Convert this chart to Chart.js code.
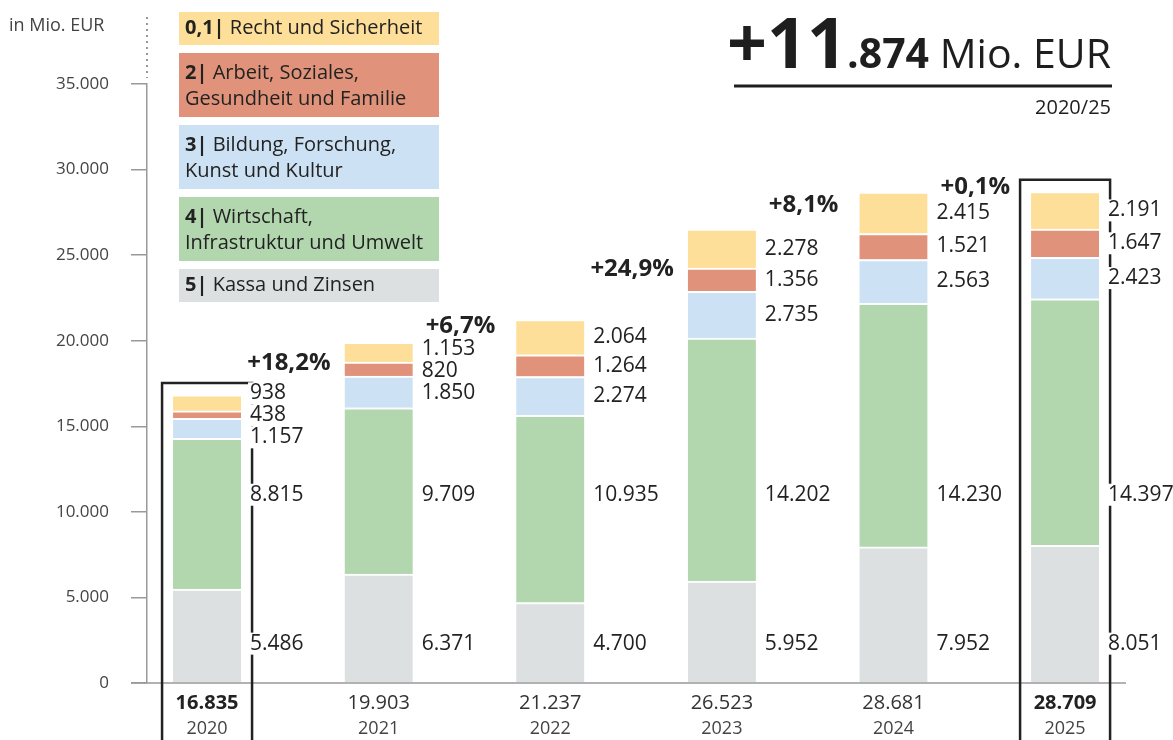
<!DOCTYPE html>
<html>
<head>
<meta charset="utf-8">
<script src="https://cdn.jsdelivr.net/npm/chart.js@4/dist/chart.umd.min.js"></script>
<style>
  html, body { margin: 0; padding: 0; background: #fff; }
  #wrap { position: relative; width: 1173px; height: 740px; }
</style>
</head>
<body>
<div id="wrap"><canvas id="canvasBudget" width="1173" height="740"></canvas></div>
<script>
"use strict";

var years = ['2020', '2021', '2022', '2023', '2024', '2025'];
var totals = [16835, 19903, 21237, 26523, 28681, 28709];
var growth = ['+18,2%', '+6,7%', '+24,9%', '+8,1%', '+0,1%'];

// bottom to top
var kassa = [5486, 6371, 4700, 5952, 7952, 8051];
var wirtschaft = [8815, 9709, 10935, 14202, 14230, 14397];
var bildung = [1157, 1850, 2274, 2735, 2563, 2423];
var arbeit = [438, 820, 1264, 1356, 1521, 1647];
var recht = [938, 1153, 2064, 2278, 2415, 2191];

var yTicks = [0, 5000, 10000, 15000, 20000, 25000, 30000, 35000];
var highlighted = [0, 5];

var legendItems = [
    { key: '0,1|', lines: ['Recht und Sicherheit'], color: '#FEDF9A' },
    { key: '2|', lines: ['Arbeit, Soziales,', 'Gesundheit und Familie'], color: '#E0937A' },
    { key: '3|', lines: ['Bildung, Forschung,', 'Kunst und Kultur'], color: '#CCE2F4' },
    { key: '4|', lines: ['Wirtschaft,', 'Infrastruktur und Umwelt'], color: '#B2D7AF' },
    { key: '5|', lines: ['Kassa und Zinsen'], color: '#DCE0E1' }
];

var FONT = '"Open Sans", "Noto Sans", sans-serif';

function formatNumber(v) {
    return String(v).replace(/\B(?=(\d{3})+(?!\d))/g, '.');
}

function makeSet(label, values, color) {
    return {
        label: label,
        data: values.map(function (v, i) { return { x: i, y: v }; }),
        backgroundColor: color,
        borderColor: '#ffffff',
        borderWidth: { top: 2, left: 0, right: 0, bottom: 0 },
        borderSkipped: false,
        barThickness: 68
    };
}

var decorPlugin = {
    id: 'decor',
    beforeDraw: function (chart) {
        var ctx = chart.ctx;
        var yScale = chart.scales.y;
        ctx.save();
        ctx.fillStyle = '#ffffff';
        ctx.fillRect(0, 0, chart.width, chart.height);

        // unit label
        ctx.fillStyle = '#444';
        ctx.font = '18px ' + FONT;
        ctx.textBaseline = 'middle';
        ctx.textAlign = 'left';
        ctx.fillText('in Mio. EUR', 9, 26);

        // dotted continuation of the axis
        ctx.strokeStyle = '#999';
        ctx.lineWidth = 2;
        ctx.setLineDash([2, 4]);
        ctx.beginPath();
        ctx.moveTo(yScale.right, 17);
        ctx.lineTo(yScale.right, 78);
        ctx.stroke();
        ctx.setLineDash([]);

        // legend boxes
        var top = 12;
        legendItems.forEach(function (item) {
            var h = item.lines.length === 1 ? 33 : 64;
            ctx.fillStyle = item.color;
            ctx.fillRect(179, top, 260, h);
            ctx.textBaseline = 'middle';
            item.lines.forEach(function (line, li) {
                var cy = top + (item.lines.length === 1 ? h / 2 : 20 + li * 26);
                var x = 185;
                ctx.fillStyle = '#222';
                if (li === 0) {
                    ctx.font = 'bold 20px ' + FONT;
                    ctx.fillText(item.key, x, cy);
                    x += ctx.measureText(item.key + ' ').width;
                }
                ctx.font = '20px ' + FONT;
                ctx.fillText(line, x, cy);
            });
            top += h + 8;
        });

        // headline
        var right = 1111;
        ctx.textBaseline = 'alphabetic';
        ctx.textAlign = 'left';
        var parts = [
            { t: '+11', f: 'bold 70px ' + FONT },
            { t: '.874', f: 'bold 41px ' + FONT },
            { t: ' Mio. EUR', f: '41px ' + FONT }
        ];
        var total = 0;
        parts.forEach(function (p) { ctx.font = p.f; total += ctx.measureText(p.t).width; });
        var x0 = right - total;
        ctx.fillStyle = '#1e1e1e';
        parts.forEach(function (p) {
            ctx.font = p.f;
            ctx.fillText(p.t, x0, 68);
            x0 += ctx.measureText(p.t).width;
        });
        ctx.strokeStyle = '#1e1e1e';
        ctx.lineWidth = 3;
        ctx.beginPath();
        ctx.moveTo(734, 86);
        ctx.lineTo(1112, 86);
        ctx.stroke();
        ctx.font = '20px ' + FONT;
        ctx.textAlign = 'right';
        ctx.textBaseline = 'middle';
        ctx.fillText('2020/25', right, 108);
        ctx.restore();
    },
    afterDatasetsDraw: function (chart) {
        var ctx = chart.ctx;
        var xs = chart.scales.x;
        var ys = chart.scales.y;
        var area = chart.chartArea;
        ctx.save();

        // baseline
        ctx.strokeStyle = '#999';
        ctx.lineWidth = 1.5;
        ctx.beginPath();
        ctx.moveTo(area.left - 16, ys.getPixelForValue(0));
        ctx.lineTo(area.right, ys.getPixelForValue(0));
        ctx.stroke();

        // brackets round first and last year
        ctx.strokeStyle = '#222';
        ctx.lineWidth = 2.5;
        highlighted.forEach(function (i) {
            var cx = xs.getPixelForValue(i);
            var topPx = ys.getPixelForValue(totals[i]) - 12;
            ctx.beginPath();
            ctx.moveTo(cx - 45, chart.height + 5);
            ctx.lineTo(cx - 45, topPx);
            ctx.lineTo(cx + 45, topPx);
            ctx.lineTo(cx + 45, chart.height + 5);
            ctx.stroke();
        });

        // segment values
        ctx.font = '21px ' + FONT;
        ctx.textAlign = 'left';
        ctx.textBaseline = 'middle';
        years.forEach(function (yr, i) {
            var lx = xs.getPixelForValue(i) + 34 + 9;
            var b0 = kassa[i] + wirtschaft[i];
            var b1 = b0 + bildung[i];
            var b2 = b1 + arbeit[i];
            var b3 = b2 + recht[i];
            var ps = [
                ys.getPixelForValue((b0 + b1) / 2),
                ys.getPixelForValue((b1 + b2) / 2),
                ys.getPixelForValue((b2 + b3) / 2)
            ];
            var gap = 22;
            for (var k = 0; k < 10; k++) {
                for (var j = 0; j < 2; j++) {
                    if (ps[j] - ps[j + 1] < gap) {
                        var mid = (ps[j] + ps[j + 1]) / 2;
                        ps[j] = mid + gap / 2;
                        ps[j + 1] = mid - gap / 2;
                    }
                }
            }
            var items = [
                [wirtschaft[i], ys.getPixelForValue(11000)],
                [kassa[i], ys.getPixelForValue(2300)],
                [bildung[i], ps[0]],
                [arbeit[i], ps[1]],
                [recht[i], ps[2]]
            ];
            items.forEach(function (it) {
                var txt = formatNumber(it[0]);
                var w = ctx.measureText(txt).width;
                ctx.fillStyle = '#ffffff';
                ctx.fillRect(lx - 2, it[1] - 11, w + 4, 22);
                ctx.fillStyle = '#222';
                ctx.fillText(txt, lx, it[1]);
            });
        });

        // totals and years
        ctx.textAlign = 'center';
        years.forEach(function (yr, i) {
            var cx = xs.getPixelForValue(i);
            var bold = highlighted.indexOf(i) >= 0;
            ctx.font = (bold ? 'bold ' : '') + '20px ' + FONT;
            ctx.fillStyle = bold ? '#222' : '#333';
            ctx.fillText(formatNumber(totals[i]), cx, 703);
            ctx.font = '18px ' + FONT;
            ctx.fillStyle = '#444';
            ctx.fillText(yr, cx, 729);
        });

        // growth rates
        ctx.font = 'bold 24px ' + FONT;
        ctx.fillStyle = '#222';
        growth.forEach(function (g, i) {
            var cx = xs.getPixelForValue(i + 0.5) - 4;
            var cy = (ys.getPixelForValue(totals[i]) + ys.getPixelForValue(totals[i + 1])) / 2 - 5;
            ctx.fillText(g, cx, cy);
        });
        ctx.restore();
    }
};

var ctxBudget = document.getElementById('canvasBudget');
var budgetChart = new Chart(ctxBudget, {
    type: 'bar',
    data: {
        datasets: [
            makeSet('5| Kassa und Zinsen', kassa, '#DCE0E1'),
            makeSet('4| Wirtschaft, Infrastruktur und Umwelt', wirtschaft, '#B2D7AF'),
            makeSet('3| Bildung, Forschung, Kunst und Kultur', bildung, '#CCE2F4'),
            makeSet('2| Arbeit, Soziales, Gesundheit und Familie', arbeit, '#E0937A'),
            makeSet('0,1| Recht und Sicherheit', recht, '#FEDF9A')
        ]
    },
    options: {
        responsive: false,
        animation: false,
        layout: { padding: { left: 0, top: 84, right: 47, bottom: 57 } },
        plugins: {
            legend: { display: false },
            tooltip: { enabled: false }
        },
        scales: {
            x: {
                type: 'linear',
                stacked: true,
                display: false,
                offset: false,
                grid: { offset: false },
                min: -0.35,
                max: 5.355
            },
            y: {
                stacked: true,
                min: 0,
                max: 35000,
                afterFit: function (scale) { scale.width = 147; },
                afterBuildTicks: function (scale) {
                    scale.ticks = yTicks.map(function (v) { return { value: v }; });
                },
                border: { color: '#999', width: 1.5 },
                grid: {
                    drawOnChartArea: false,
                    drawTicks: true,
                    tickLength: 16,
                    color: '#999',
                    lineWidth: 1.5
                },
                ticks: {
                    padding: 22,
                    color: '#444',
                    font: { family: FONT, size: 17 },
                    callback: function (v) { return formatNumber(v); }
                }
            }
        }
    },
    plugins: [decorPlugin]
});
</script>
</body>
</html>
